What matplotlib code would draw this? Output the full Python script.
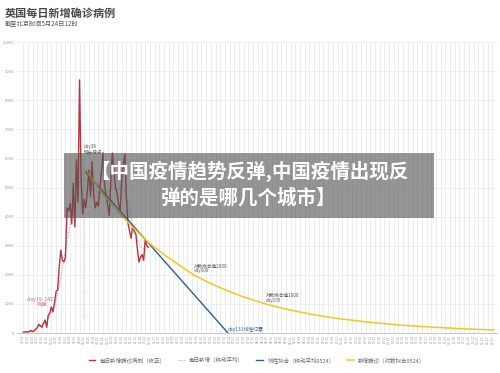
import datetime as dt
import matplotlib
matplotlib.use('Agg')
import matplotlib.pyplot as plt

plt.rcParams['font.family'] = ['Noto Sans CJK SC', 'DejaVu Sans']

# daily new cases (corrected), day 0 = 2020-03-04
case_days = list(range(0, 81))
case_vals = [30, 40, 50, 30, 60, 90, 50, 80, 130, 200,
             300, 250, 200, 350, 450, 200, 620, 690, 900, 730,
             1030, 1430, 1480, 2270, 2850, 2500, 2450, 2600, 4300, 4200,
             4450, 3750, 5150, 3650, 5950, 4500, 8700, 5300, 4100, 4600,
             4300, 4900, 5600, 4700, 5900, 4800, 4300, 4500, 4350, 5000,
             5500, 6200, 5100, 4700, 4400, 4050, 5200, 6190, 5600, 5000,
             4800, 4450, 4200, 5300, 5800, 6150, 4600, 3780, 3500, 3260,
             3700, 3500, 3400, 2900, 2440, 2600, 2700, 2500, 3200, 3000,
             2950]

# moving average (dotted grey)
ma_days = [3, 6, 9, 12, 15, 18, 21, 24, 27, 30, 33, 36, 39, 42, 45, 48, 51,
           54, 57, 60, 63, 66, 69, 72, 75, 78]
ma_vals = [45, 70, 160, 270, 400, 700, 1150, 1900, 2850, 3700, 4400, 5200,
           5300, 5200, 5000, 4800, 4950, 4850, 5000, 4900, 5100, 4700, 3950,
           3400, 2950, 2850]

# linear fit
lin_days = [40, 131]
lin_vals = [5530, 0]

# log fit
log_days = [40, 50, 60, 70, 80, 90, 100, 109, 120, 130, 140, 155, 170, 185,
            200, 220, 240, 260, 280, 301]
log_vals = [5600, 4850, 4200, 3640, 3120, 2700, 2330, 2000, 1700, 1470, 1260,
            1000, 800, 640, 510, 380, 280, 210, 150, 110]

start = dt.date(2020, 3, 4)
tick_days = list(range(0, 303, 3))
tick_labels = [(start + dt.timedelta(days=d)).strftime('%m-%d') for d in tick_days]

RED = '#b8323f'
BLUE = '#2e5d8f'
YEL = '#f3c623'
GREY = '#999999'

fig = plt.figure(figsize=(5, 3.73), dpi=100)
fig.patch.set_facecolor('white')
ax = fig.add_axes([0.034, 0.107, 0.96, 0.78])

ax.plot(case_days, case_vals, color=RED, lw=1.0, label='每日新增确诊病例（修正）', zorder=3)
ax.plot(ma_days, ma_vals, color=GREY, lw=0.7, ls=':', label='每日新增（移动平均）', zorder=2)
ax.plot(lin_days, lin_vals, color=BLUE, lw=1.0, label='线性拟合（移动平均0524）', zorder=4)
ax.plot(log_days, log_vals, color=YEL, lw=1.1, label='新增确诊（对数拟合0524）', zorder=4)

ax.set_xlim(-4, 303)
ax.set_ylim(0, 10000)
ax.set_yticks(range(0, 10001, 1000))
ax.set_xticks(tick_days)
ax.set_xticklabels(tick_labels, rotation=90, fontsize=2.3, color='#999999')
ax.tick_params(axis='y', labelsize=3, colors='#999999', length=0, pad=2)
ax.tick_params(axis='x', length=0, pad=1.5)
ax.grid(axis='y', color='#eeeeee', lw=0.6)
ax.grid(axis='x', color='#e4e4e4', lw=0.5)
for s in ['top', 'right', 'left']:
    ax.spines[s].set_visible(False)
ax.spines['bottom'].set_color('#bbbbbb')
ax.spines['bottom'].set_linewidth(0.6)

# annotations
ax.axvline(38, ymin=0.05, ymax=0.6, color='#aaaaaa', lw=0.5, ls=':')
ax.text(38.5, 6150, 'day38\n增长拐点', fontsize=3.3, color='#555555', va='bottom', linespacing=1.1)
ax.text(12, 900, 'day19: 1427\n到峰', fontsize=3.8, color='#d26a78', ha='center', va='bottom', linespacing=1.1)
ax.text(109, 2050, '对数拟合值2000\nday109', fontsize=3.3, color='#555555', va='bottom', linespacing=1.1)
ax.text(155, 1050, '对数拟合值1000\nday155', fontsize=3.3, color='#555555', va='bottom', linespacing=1.1)
ax.text(131, 30, 'day131线性归零', fontsize=3.5, color=BLUE, va='bottom')

ax.legend(loc='upper center', bbox_to_anchor=(0.5, -0.065), ncol=4, frameon=False,
          fontsize=4, handlelength=1.2, columnspacing=2.2, labelcolor='#666666')

fig.text(0.01, 0.965, '英国每日新增确诊病例', fontsize=8, fontweight='bold', color='#4a4a4a', va='center')
fig.text(0.01, 0.935, '截至北京时间5月24日12时', fontsize=4.5, color='#555555', va='center')

# overlay banner
fig.patches.append(matplotlib.patches.Rectangle((0.128, 0.4155), 0.74, 0.174,
                   transform=fig.transFigure, facecolor='#555555', alpha=0.62,
                   edgecolor='none', zorder=10))
fig.text(0.498, 0.54, '【中国疫情趋势反弹,中国疫情出现反', fontsize=14, fontweight='bold',
         color='white', ha='center', va='center', zorder=11)
fig.text(0.498, 0.47, '弹的是哪几个城市】', fontsize=14, fontweight='bold',
         color='white', ha='center', va='center', zorder=11)

fig.savefig('out.png', dpi=100)
